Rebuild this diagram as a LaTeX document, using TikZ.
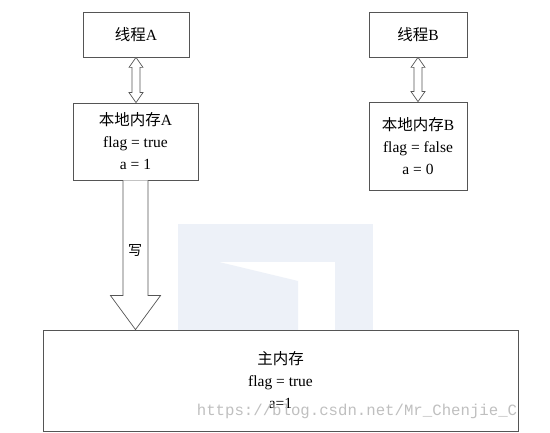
\documentclass[tikz,border=0pt]{standalone}
\usepackage{fontspec}
\setmainfont{Liberation Serif}
\newfontfamily\cjk{Noto Sans CJK SC}
\newfontfamily\wmfont{Liberation Mono}
\usepackage{xcolor}
\usepackage{tikz}
\usetikzlibrary{positioning, calc}

\definecolor{logoblue}{RGB}{237,241,248}
\definecolor{linegray}{RGB}{85,85,85}

\begin{document}
\begin{tikzpicture}[
  x=1pt, y=-1pt,
  box/.style={rectangle, draw=linegray, line width=0.8pt, align=center,
              inner sep=2pt, font=\fontsize{15.5}{22}\selectfont},
  blk/.style={draw=linegray, line width=0.7pt, fill=white, line join=miter},
  wm/.style={font=\wmfont\fontsize{15.7}{18}\selectfont, text=black!25}
]
\useasboundingbox (0,0) rectangle (550,433);

% faded logo behind the picture
\fill[logoblue] (178,224) rectangle (373,331);
\fill[white] (215,262) rectangle (335,331);
\fill[logoblue] (215,262) -- (219,262) -- (298,281) -- (298,331) -- (215,331) -- cycle;

\node[box, minimum width=106pt, minimum height=45pt] (ta) at (136,34.5) {{\cjk 线程}A};
\node[box, minimum width=125pt, minimum height=77pt] (ma) at (135.5,141.5)
  {{\cjk 本地内存}A\\flag = true\\a = 1};
\node[box, minimum width=98pt, minimum height=45pt] (tb) at (418,34.5) {{\cjk 线程}B};
\node[box, minimum width=98pt, minimum height=88pt] (mb) at (418,146)
  {{\cjk 本地内存}B\\flag = false\\a = 0};
\node[box, minimum width=475pt, minimum height=101pt] (main) at (280.5,380.5)
  {{\cjk 主内存}\\flag = true\\a=1};

% thread <-> local memory
\coordinate (ea) at (ma.north -| ta.south);
\coordinate (eb) at (mb.north -| tb.south);
\draw[blk] (ta.south) -- ++(7,10) -- ++(-3,0) -- ($(ea)+(4,-10)$) -- ++(3,0) -- (ea)
  -- ++(-7,-10) -- ++(3,0) -- ($(ta.south)+(-4,10)$) -- ++(-3,0) -- cycle;
\draw[blk] (tb.south) -- ++(7,10) -- ++(-3,0) -- ($(eb)+(4,-10)$) -- ++(3,0) -- (eb)
  -- ++(-7,-10) -- ++(3,0) -- ($(tb.south)+(-4,10)$) -- ++(-3,0) -- cycle;

% write back to main memory
\coordinate (wtip) at (main.north -| ma.south);
\draw[blk] ($(ma.south)+(-12.5,0)$) -- ($(wtip)+(-12.5,-34)$) -- ($(wtip)+(-25,-34)$)
  -- (wtip) -- ($(wtip)+(25,-34)$) -- ($(wtip)+(12.5,-34)$) -- ($(ma.south)+(12.5,0)$);
\node[font=\cjk\fontsize{14}{16}\selectfont] (xie) at (135,250) {写};

\node[wm] (mark) at (357,411) {https://blog.csdn.net/Mr\_Chenjie\_C};
\end{tikzpicture}
\end{document}
